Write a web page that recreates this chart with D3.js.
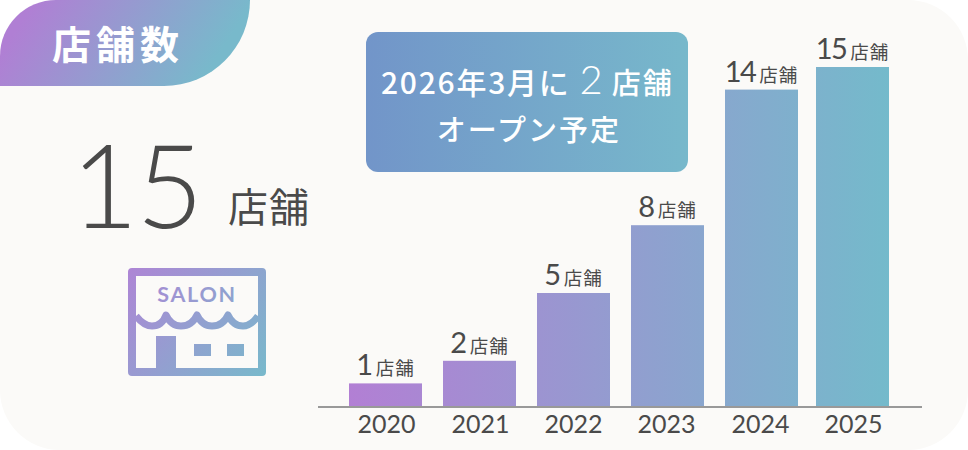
<!DOCTYPE html>
<html><head><meta charset="utf-8">
<script src="https://cdn.jsdelivr.net/npm/d3@7"></script>
<style>html,body{margin:0;padding:0;background:#fff}svg{display:block}</style>
</head><body><svg id="c" width="968" height="450"></svg>
<script>
const years = ["2020","2021","2022","2023","2024","2025"];
const stores = [1,2,5,8,14,15];
const unit = "店舗";
const title = "店舗数";
const totalValue = "15";
const noticeLead = "2026年3月に";
const noticeValue = "2";
const noticeLine2 = "オープン予定";

const W=968,H=450;
const jp='"Noto Sans CJK JP","Noto Sans",sans-serif', num='Lato,"Noto Sans",sans-serif', ink='#4a4a4a';
const svg=d3.select('#c');
const defs=svg.append('defs');
function grad(id,x1,y1,x2,y2,c1,c2){
  const g=defs.append('linearGradient').attr('id',id).attr('gradientUnits','userSpaceOnUse')
    .attr('x1',x1).attr('y1',y1).attr('x2',x2).attr('y2',y2);
  g.append('stop').attr('offset',0).attr('stop-color',c1);
  g.append('stop').attr('offset',1).attr('stop-color',c2);
}
grad('gBars',349,0,889,0,'#b27fd4','#74bacb');
grad('gTab',35,0,190,100,'#b07fd4','#78b9cb');
grad('gBox',366,0,688,0,'#7295c9','#77b8cb');
grad('gIcon',128,268,266,376,'#ae85d5','#78b9cb');

svg.append('rect').attr('width',W).attr('height',H).attr('rx',60).attr('fill','#fbfaf8');

// tab
svg.append('path').attr('fill','url(#gTab)').attr('d','M0 86V56A56 56 0 0 1 56 0H250A86 86 0 0 1 164 86Z');
svg.append('text').attr('x',52).attr('y',59).attr('fill','#fff')
  .attr('font-family',jp).attr('font-weight',700).attr('font-size',39).attr('letter-spacing',5).text(title);

// total
svg.append('text').attr('x',71).attr('y',228).attr('fill',ink).attr('font-family',num).attr('font-weight',300)
  .attr('font-size',116).attr('letter-spacing',-2).text(totalValue);
svg.append('text').attr('x',228).attr('y',222).attr('fill',ink).attr('font-family',jp).attr('font-weight',400)
  .attr('font-size',40).attr('letter-spacing',1).text(unit);

// icon
const icon=svg.append('g');
icon.append('path').attr('fill','url(#gIcon)').attr('fill-rule','evenodd')
  .attr('d','M132 268H262A4 4 0 0 1 266 272V372A4 4 0 0 1 262 376H132A4 4 0 0 1 128 372V272A4 4 0 0 1 132 268ZM136 276V368H258V276Z');
icon.append('path').attr('fill','none').attr('stroke','url(#gIcon)').attr('stroke-width',7).attr('stroke-linejoin','round')
  .attr('d','M136 316Q144 326 152 326Q162 326 166 315Q171 326 181 326Q192 326 197 315Q202 326 212 326Q223 326 228 315Q233 326 243 326Q251 326 258 316');
icon.append('rect').attr('x',156).attr('y',336).attr('width',20).attr('height',32).attr('fill','url(#gIcon)');
icon.append('rect').attr('x',194).attr('y',344).attr('width',17).attr('height',12).attr('fill','url(#gIcon)');
icon.append('rect').attr('x',227).attr('y',344).attr('width',17).attr('height',12).attr('fill','url(#gIcon)');
icon.append('text').attr('x',197).attr('y',302).attr('text-anchor','middle').attr('fill','url(#gIcon)')
  .attr('font-family',num).attr('font-weight',700).attr('font-size',21.5).attr('letter-spacing',1.7).text('SALON');

// notice box
svg.append('rect').attr('x',366).attr('y',32).attr('width',322).attr('height',140).attr('rx',12).attr('fill','url(#gBox)');
const l1=svg.append('text').attr('x',381).attr('y',94).attr('fill','#fff').attr('font-family',jp).attr('font-weight',500);
l1.append('tspan').attr('font-size',30).attr('letter-spacing',1.75).text(noticeLead);
l1.append('tspan').attr('dx',9).attr('font-family',num).attr('font-weight',300).attr('font-size',40).text(noticeValue);
l1.append('tspan').attr('dx',9).attr('font-size',29).attr('letter-spacing',2).text(unit);
svg.append('text').attr('x',529).attr('y',141).attr('text-anchor','middle').attr('fill','#fff').attr('font-family',jp)
  .attr('font-weight',500).attr('font-size',29).attr('letter-spacing',2).text(noticeLine2);

// chart
const baseY=406, barW=73;
const x=d3.scaleOrdinal().domain(years).range([385.5,479.5,573.5,667.5,761.5,852.5]);
const xLabel=d3.scaleOrdinal().domain(years).range([386,480,573,666,760,853]);
const y=d3.scaleLinear().domain([0,15]).range([baseY,67]);
const rows=d3.zip(years,stores);
svg.append('g').selectAll('rect').data(rows).join('rect')
  .attr('x',d=>x(d[0])-barW/2).attr('width',barW)
  .attr('y',d=>y(d[1])).attr('height',d=>y(0)-y(d[1])).attr('fill','url(#gBars)');

const lab=svg.append('g').selectAll('text').data(rows).join('text')
  .attr('x',d=>x(d[0])).attr('y',d=>y(d[1])-8).attr('text-anchor','middle').attr('fill',ink);
lab.append('tspan').attr('font-family',num).attr('font-weight',400).attr('font-size',29).attr('letter-spacing',-1.5).text(d=>d[1]);
lab.append('tspan').attr('dx',4).attr('font-family',jp).attr('font-size',18.5).attr('letter-spacing',1).text(unit);

svg.append('rect').attr('x',318).attr('y',baseY).attr('width',604).attr('height',2).attr('fill','#999');
const ax=svg.append('g').attr('transform',`translate(0,${baseY+2})`).call(d3.axisBottom(xLabel).tickSize(0).tickPadding(7));
ax.select('.domain').remove();
ax.selectAll('text').attr('font-family',num).attr('font-size',25).attr('fill',ink);
</script></body></html>
